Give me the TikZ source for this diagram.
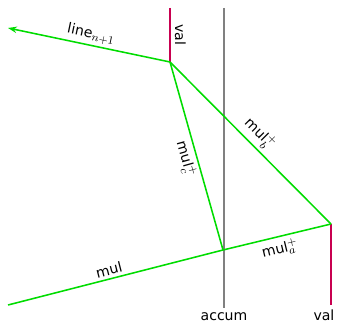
\documentclass[tikz,border=0pt]{standalone}
\usepackage{fontspec}
\setmainfont{DejaVu Sans}
\DeclareMathSizes{10}{10}{8}{6}
\usetikzlibrary{arrows.meta,positioning,calc}
\definecolor{wiregreen}{RGB}{0,220,0}
\definecolor{valred}{RGB}{200,0,80}
\definecolor{accumgray}{RGB}{128,128,128}

\begin{document}
\begin{tikzpicture}[x=0.025cm,y=-0.025cm,
wire/.style={wiregreen,line width=1.1pt},
valline/.style={valred,line width=1.1pt},
accline/.style={accumgray,line width=1.1pt},
lbl/.style={text=black,font=\normalsize,inner sep=2pt}]
\useasboundingbox (0,0) rectangle (341,326);
% punti
\coordinate (accTop) at (224,8);
\coordinate (accBot) at (224,308);
\coordinate (valTop) at (170,8);
\coordinate (p) at (170,62);
\coordinate (lineEnd) at (8,28);
\coordinate (q) at (331,224);
\coordinate (valBot) at (331,305);
\coordinate (a) at (223,250);
\coordinate (mulStart) at (8,305);
% linee verticali
\draw[accline] (accTop)--(accBot) node[lbl,below=1pt] (accum) {accum};
\draw[valline] (valTop)--(p) node[lbl,midway,right=1pt,rotate=-90,anchor=south] (valA) {val};
\draw[valline] (q)--(valBot) node[lbl,below=1pt,xshift=-5pt] (valB) {val};
% fili
\draw[wire,-{Stealth[length=2.2mm,width=1.6mm]}] (p)--(lineEnd)
  node[lbl,midway,sloped,above] (lbline) {line$_{n+1}$};
\draw[wire] (p)--(q) node[lbl,pos=0.5,sloped,above] (lbb) {mul$^+_b$};
\draw[wire] (p)--(a) node[lbl,pos=0.5,sloped,below] (lbc) {mul$^+_c$};
\draw[wire] (mulStart)--(a) node[lbl,pos=0.48,sloped,above] (lbmul) {mul};
\draw[wire] (a)--(q) node[lbl,pos=0.5,sloped,below,inner sep=3pt] (lba) {mul$^+_a$};
\end{tikzpicture}
\end{document}
